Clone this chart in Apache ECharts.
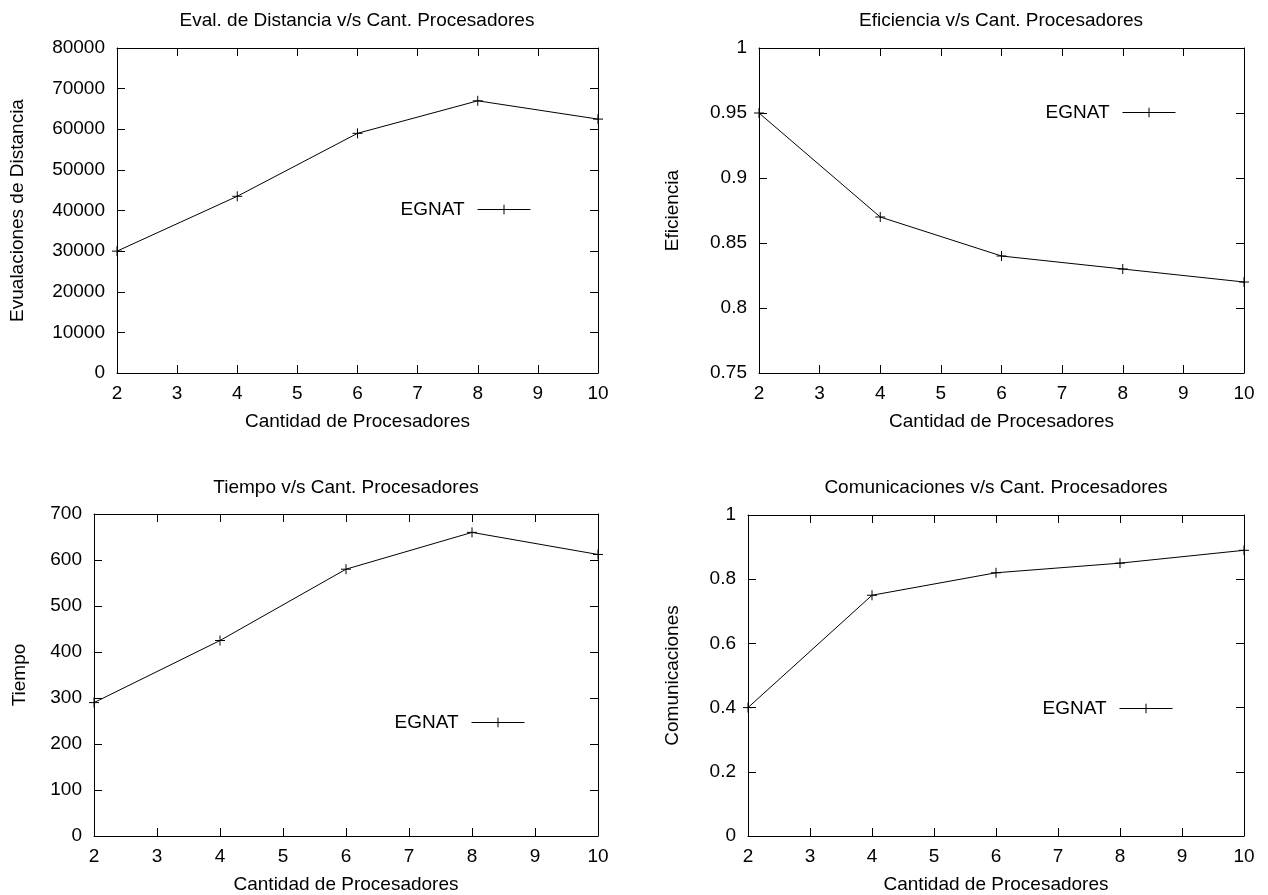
<!DOCTYPE html>
<html>
<head>
<meta charset="utf-8">
<script src="https://cdn.jsdelivr.net/npm/echarts@6/dist/echarts.min.js"></script>
<style>
html,body{margin:0;padding:0;background:#fff;}
#chart{width:1268px;height:895px;}
</style>
</head>
<body>
<div id="chart"></div>
<script>
// ---- data ----
var procesadores = [2, 4, 6, 8, 10];
var evaluaciones = [30000, 43500, 59000, 67000, 62500];
var eficiencia = [0.95, 0.87, 0.84, 0.83, 0.82];
var tiempo = [290, 425, 580, 660, 612];
var comunicaciones = [0.40, 0.75, 0.82, 0.85, 0.89];
var seriesName = 'EGNAT';
var titles = [
  'Eval. de Distancia v/s Cant. Procesadores',
  'Eficiencia v/s Cant. Procesadores',
  'Tiempo v/s Cant. Procesadores',
  'Comunicaciones v/s Cant. Procesadores'
];
var xName = 'Cantidad de Procesadores';
var yNames = ['Evualaciones de Distancia', 'Eficiencia', 'Tiempo', 'Comunicaciones'];

// ---- layout / styles ----
var FONT = 'Liberation Sans, Arial, Helvetica, sans-serif';
var FS = 19;
var grids = [
  {left: 117, top: 48, width: 481, height: 325},
  {left: 759, top: 48, width: 485, height: 325},
  {left: 94, top: 514, width: 504, height: 325},
  {left: 748, top: 515, width: 496, height: 324}
];
var yRanges = [
  {min: 0, max: 80000, interval: 10000},
  {min: 0.75, max: 1, interval: 0.05},
  {min: 0, max: 700, interval: 100},
  {min: 0, max: 1, interval: 0.2}
];
var yNameGaps = [90, 77, 65, 66];
var titlePos = [{x: 357, y: 11}, {x: 1001, y: 11}, {x: 346, y: 478}, {x: 996, y: 478}];
var legendPos = [{right: 737, top: 200}, {right: 92, top: 103}, {right: 743, top: 713}, {right: 95, top: 699}];
var valueSets = [evaluaciones, eficiencia, tiempo, comunicaciones];

var plusPath = 'path://M0,5L10,5M5,0L5,10';
var lineCol = '#000';

var option = {
  backgroundColor: '#fff',
  animation: false,
  title: [], legend: [], grid: [], xAxis: [], yAxis: [], series: []
};

function plainNum(v) { return String(+v.toFixed(6)); }

for (var i = 0; i < 4; i++) {
  option.grid.push(grids[i]);
  option.title.push({
    text: titles[i], left: titlePos[i].x, top: titlePos[i].y, textAlign: 'center', padding: 0,
    textStyle: {fontFamily: FONT, fontSize: FS, fontWeight: 'normal', color: '#000'}
  });
  option.legend.push({
    data: [seriesName], right: legendPos[i].right, top: legendPos[i].top, padding: 0,
    align: 'right', itemWidth: 53, itemHeight: 12, selectedMode: false,
    lineStyle: {width: 1, color: '#000'},
    itemStyle: {color: 'rgba(0,0,0,0)', borderColor: '#000', borderWidth: 1},
    textStyle: {fontFamily: FONT, fontSize: FS, color: '#000', padding: [0, 8, 0, 0]}
  });
  var axisLine = {show: true, onZero: false, lineStyle: {color: '#000', width: 1}};
  var tick = {show: true, inside: true, length: 8, lineStyle: {color: '#000', width: 1}};
  var lbl = {fontFamily: FONT, fontSize: FS, color: '#000', formatter: plainNum};
  // bottom x
  option.xAxis.push({
    type: 'value', gridIndex: i, position: 'bottom', min: 2, max: 10, interval: 1,
    name: xName, nameLocation: 'middle', nameGap: 39,
    nameTextStyle: {fontFamily: FONT, fontSize: FS, color: '#000'},
    axisLine: axisLine, axisTick: tick, splitLine: {show: false},
    axisLabel: Object.assign({margin: 11}, lbl)
  });
  // top x (mirror ticks)
  option.xAxis.push({
    type: 'value', gridIndex: i, position: 'top', min: 2, max: 10, interval: 1,
    axisLine: axisLine, axisTick: tick, splitLine: {show: false}, axisLabel: {show: false}
  });
  // left y
  option.yAxis.push({
    type: 'value', gridIndex: i, position: 'left', min: yRanges[i].min, max: yRanges[i].max, interval: yRanges[i].interval,
    name: yNames[i], nameLocation: 'middle', nameGap: yNameGaps[i],
    nameTextStyle: {fontFamily: FONT, fontSize: FS, color: '#000'},
    axisLine: axisLine, axisTick: tick, splitLine: {show: false},
    axisLabel: Object.assign({margin: 12}, lbl)
  });
  // right y (mirror ticks)
  option.yAxis.push({
    type: 'value', gridIndex: i, position: 'right', min: yRanges[i].min, max: yRanges[i].max, interval: yRanges[i].interval,
    axisLine: axisLine, axisTick: tick, splitLine: {show: false}, axisLabel: {show: false}
  });
  var vals = valueSets[i];
  option.series.push({
    type: 'line', name: seriesName, xAxisIndex: i * 2, yAxisIndex: i * 2,
    data: procesadores.map(function (x, k) { return [x, vals[k]]; }),
    symbol: plusPath, symbolSize: 10, showSymbol: true,
    lineStyle: {color: lineCol, width: 1},
    itemStyle: {color: 'rgba(0,0,0,0)', borderColor: lineCol, borderWidth: 1},
    emphasis: {disabled: true}
  });
}

var chart = echarts.init(document.getElementById('chart'), null, {renderer: 'canvas'});
chart.setOption(option);
</script>
</body>
</html>
